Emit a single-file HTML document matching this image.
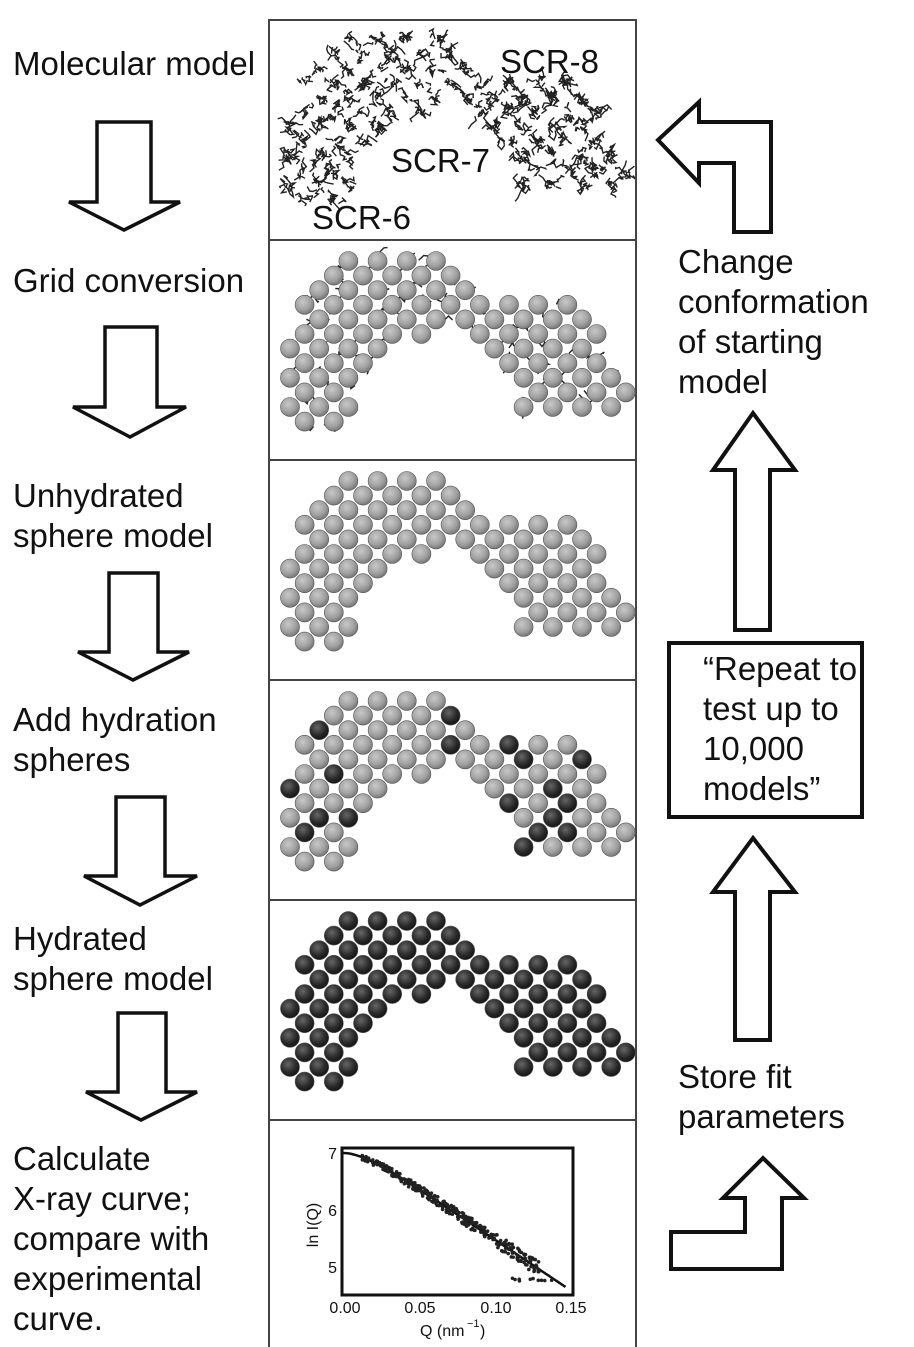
<!DOCTYPE html>
<html><head><meta charset="utf-8"><style>
html,body{margin:0;padding:0;background:#fff;}
body{width:914px;height:1347px;position:relative;overflow:hidden;font-family:"Liberation Sans",sans-serif;}
.t{position:absolute;font-size:33px;line-height:40px;color:#111;white-space:nowrap;}
</style></head><body>
<svg id="s" width="914" height="1347" style="position:absolute;left:0;top:0">
<defs>
<radialGradient id="g" cx="0.4" cy="0.35" r="0.7"><stop offset="0" stop-color="#c8c8c8"/><stop offset="0.6" stop-color="#a0a0a0"/><stop offset="1" stop-color="#707070"/></radialGradient>
<radialGradient id="d" cx="0.4" cy="0.35" r="0.7"><stop offset="0" stop-color="#666"/><stop offset="0.6" stop-color="#2a2a2a"/><stop offset="1" stop-color="#111"/></radialGradient>
<clipPath id="c1"><rect x="270" y="21" width="365" height="218"/></clipPath>
<clipPath id="c2"><rect x="270" y="241" width="365" height="218"/></clipPath>
</defs>
<g fill="none" stroke="#444" stroke-width="2">
<rect x="269" y="20" width="367" height="1330"/>
<line x1="269" y1="240" x2="636" y2="240"/>
<line x1="269" y1="460" x2="636" y2="460"/>
<line x1="269" y1="680" x2="636" y2="680"/>
<line x1="269" y1="900" x2="636" y2="900"/>
<line x1="269" y1="1120" x2="636" y2="1120"/>
</g>
<g fill="#fff" stroke="#111" stroke-width="3.5" stroke-linejoin="miter">
<polygon points="97,122 151,122 151,202 180,202 124,230 69,202 97,202"/>
<polygon points="105,327 157,327 157,407 186,407 130,437 73,407 105,407"/>
<polygon points="109,573 158,573 158,652 189,652 133,680 78,652 109,652"/>
<polygon points="116,797 165,797 165,876 197,876 140,905 84,876 116,876"/>
<polygon points="118,1013 166,1013 166,1092 197,1092 141,1120 86,1092 118,1092"/>
</g>
<g fill="#fff" stroke="#111" stroke-width="4">
<polygon points="771,232 771,122 699,122 699,102 658,140 699,183 699,163 734,163 734,232"/>
<polygon points="753,413 795,470 770,470 770,630 735,630 735,470 713,470"/>
<rect x="669" y="643" width="193" height="174"/>
<polygon points="753,838 795,892 770,892 770,1040 735,1040 735,892 713,892"/>
<polygon points="763,1158 804,1198 782,1198 782,1269 671,1269 671,1232 745,1232 745,1198 723,1198"/>
</g>
<g id="mol"></g>
<g>
<rect x="342" y="1148" width="231" height="147" fill="none" stroke="#111" stroke-width="3"/>
<path id="curve" fill="none" stroke="#111" stroke-width="2.5"/>
<g id="pts" fill="#222"></g>
<g font-size="16" fill="#111" font-family="Liberation Sans,sans-serif">
<text x="337" y="1159" text-anchor="end">7</text>
<text x="337" y="1216" text-anchor="end">6</text>
<text x="337" y="1273" text-anchor="end">5</text>
<text x="345" y="1313" text-anchor="middle">0.00</text>
<text x="420" y="1313" text-anchor="middle">0.05</text>
<text x="496" y="1313" text-anchor="middle">0.10</text>
<text x="571" y="1313" text-anchor="middle">0.15</text>
<text x="420" y="1336">Q (nm</text><text x="467" y="1327" font-size="11">−1</text><text x="480" y="1336">)</text>
<text transform="translate(318,1225) rotate(-90)" text-anchor="middle">ln I(Q)</text>
</g>
</g>
</svg>
<div class="t" style="left:13px;top:44px">Molecular model</div>
<div class="t" style="left:13px;top:261px">Grid conversion</div>
<div class="t" style="left:13px;top:476px">Unhydrated<br>sphere model</div>
<div class="t" style="left:13px;top:700px">Add hydration<br>spheres</div>
<div class="t" style="left:13px;top:919px">Hydrated<br>sphere model</div>
<div class="t" style="left:13px;top:1139px">Calculate<br>X-ray curve;<br>compare with<br>experimental<br>curve.</div>
<div class="t" style="left:678px;top:242px">Change<br>conformation<br>of starting<br>model</div>
<div class="t" style="left:703px;top:649px">“Repeat to<br>test up to<br>10,000<br>models”</div>
<div class="t" style="left:678px;top:1057px">Store fit<br>parameters</div>
<div class="t" style="left:500px;top:42px">SCR-8</div>
<div class="t" style="left:391px;top:141px">SCR-7</div>
<div class="t" style="left:312px;top:198px">SCR-6</div>
<script>
var NS="http://www.w3.org/2000/svg";
function el(p,n,a){var e=document.createElementNS(NS,n);for(var k in a)e.setAttribute(k,a[k]);p.appendChild(e);return e;}
var seed=7;function r(){seed=(seed*16807)%2147483647;return seed/2147483647;}
function inPoly(x,y,p){var c=false;for(var i=0,j=p.length-1;i<p.length;j=i++){var xi=p[i][0],yi=p[i][1],xj=p[j][0],yj=p[j][1];if(((yi>y)!=(yj>y))&&(x<(xj-xi)*(y-yi)/(yj-yi)+xi))c=!c;}return c;}
var L=[[10,110],[60,10],[100,12],[160,15],[220,50],[205,85],[150,100],[120,112],[95,140],[90,175],[45,192],[12,175]];
var R=[[200,80],[240,60],[320,65],[365,150],[335,180],[265,180],[225,125]];
var pts=[];
for(var j=0;j<14;j++)for(var i=0;i<26;i++){if((i+j)%2)continue;var x=22+14.6*i,y=21+14.6*j;if(inPoly(x,y,L)||inPoly(x,y,R))pts.push([x,y]);}
var m=document.getElementById('mol');
function lines(oy,n,clip){var g=el(m,'g',{stroke:'#222','stroke-width':1.4,fill:'none','clip-path':'url(#'+clip+')'});for(var k=0;k<n;k++){var p=pts[Math.floor(r()*pts.length)];var x=268+p[0]+(r()-0.5)*10,y=oy+p[1]+(r()-0.5)*10;var d='M'+x.toFixed(1)+' '+y.toFixed(1);for(var s=0;s<3;s++){x+=(r()-0.5)*10;y+=(r()-0.5)*10;d+=' L'+x.toFixed(1)+' '+y.toFixed(1);}el(g,'path',{d:d});}}
lines(18,800,'c1');
lines(240,220,'c2');
function spheres(oy,fn){pts.forEach(function(p){el(m,'circle',{cx:268+p[0],cy:oy+p[1],r:9.5,fill:fn(p),stroke:'#555','stroke-width':0.6});});}
spheres(240,function(){return 'url(#g)';});
spheres(460,function(){return 'url(#g)';});
spheres(680,function(p){return r()<0.22?'url(#d)':'url(#g)';});
spheres(900,function(){return 'url(#d)';});
function V(q){var a=0.015;return 7-17.8*q+17.8*a*(1-Math.exp(-q/a));}
function X(q){return 343+q/0.15*227;}
function Y(v){return 1153+(7-v)*57;}
var d='';for(var k=0;k<=80;k++){var q=k*0.147/80;var yy=Math.min(Y(V(q)),1295);d+=(k?' L':'M')+X(q).toFixed(1)+' '+yy.toFixed(1);}
document.getElementById('curve').setAttribute('d',d);
var pg=document.getElementById('pts');
for(var k=0;k<300;k++){var q=0.012+r()*0.118;var v=V(q)+(r()-0.5)*(0.08+q*1.5);var yy=Y(v);if(yy<1293)el(pg,'circle',{cx:X(q),cy:yy,r:1.8});}
for(var k=0;k<10;k++){var q=0.1+r()*0.045;el(pg,'circle',{cx:X(q),cy:Y(4.78+(r()-0.5)*0.05),r:1.8});}
</script>
</body></html>
